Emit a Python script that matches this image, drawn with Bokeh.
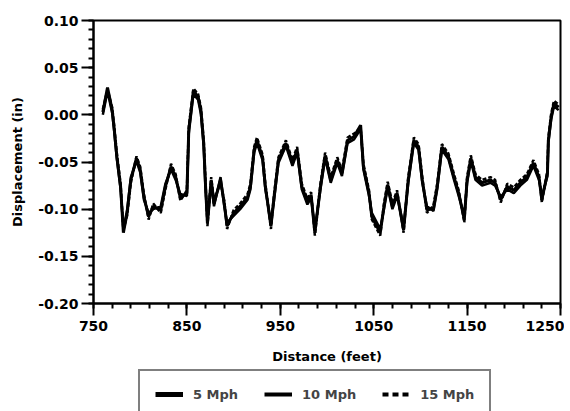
from bokeh.plotting import figure
from bokeh.layouts import column
from bokeh.models import Legend, LegendItem, FixedTicker, SingleIntervalTicker, NumeralTickFormatter, Range1d
from bokeh.embed import file_html
from bokeh.resources import INLINE

distance = [760, 765, 770, 772, 775, 779, 782, 786, 790, 796, 800, 804, 809, 814, 822, 827, 833, 838, 843, 850,
            852, 857, 862, 865, 868, 870, 872, 876, 879, 886, 890, 893, 900, 907, 915, 918, 922, 925, 931, 934,
            940, 943, 948, 956, 963, 968, 973, 979, 983, 987, 993, 998, 1004, 1011, 1016, 1022, 1029, 1036, 1039, 1045,
            1048, 1057, 1061, 1065, 1070, 1075, 1082, 1087, 1093, 1098, 1102, 1107, 1114, 1118, 1123, 1130, 1136, 1141, 1147, 1150,
            1154, 1159, 1166, 1175, 1180, 1186, 1193, 1200, 1207, 1214, 1221, 1227, 1230, 1236, 1237, 1240, 1243, 1248]

mph5 = [0.003, 0.029, 0.005, -0.013, -0.044, -0.076, -0.125, -0.104, -0.069, -0.046, -0.058, -0.087, -0.108, -0.097, -0.101, -0.076, -0.055, -0.066, -0.088, -0.083,
        -0.016, 0.026, 0.019, 0.005, -0.030, -0.076, -0.115, -0.069, -0.094, -0.069, -0.094, -0.118, -0.104, -0.097, -0.087, -0.076, -0.037, -0.027, -0.045, -0.076,
        -0.118, -0.090, -0.048, -0.030, -0.051, -0.037, -0.076, -0.092, -0.085, -0.125, -0.076, -0.043, -0.069, -0.048, -0.062, -0.027, -0.023, -0.011, -0.055, -0.083,
        -0.108, -0.125, -0.097, -0.074, -0.097, -0.083, -0.122, -0.069, -0.027, -0.034, -0.069, -0.101, -0.099, -0.076, -0.034, -0.044, -0.066, -0.083, -0.111, -0.069,
        -0.046, -0.066, -0.072, -0.069, -0.072, -0.090, -0.076, -0.080, -0.072, -0.066, -0.051, -0.066, -0.090, -0.062, -0.027, -0.002, 0.012, 0.008]

mph10 = [0.000, 0.025, 0.002, -0.016, -0.047, -0.079, -0.121, -0.101, -0.066, -0.049, -0.061, -0.090, -0.104, -0.100, -0.097, -0.073, -0.058, -0.069, -0.084, -0.086,
         -0.020, 0.022, 0.016, 0.001, -0.034, -0.080, -0.111, -0.073, -0.097, -0.066, -0.097, -0.114, -0.107, -0.100, -0.090, -0.079, -0.040, -0.030, -0.048, -0.079,
         -0.114, -0.093, -0.051, -0.033, -0.054, -0.040, -0.079, -0.095, -0.088, -0.121, -0.079, -0.046, -0.072, -0.051, -0.065, -0.030, -0.026, -0.015, -0.058, -0.086,
         -0.104, -0.121, -0.100, -0.077, -0.100, -0.086, -0.118, -0.072, -0.030, -0.037, -0.072, -0.097, -0.102, -0.079, -0.037, -0.047, -0.069, -0.086, -0.107, -0.072,
         -0.049, -0.069, -0.075, -0.072, -0.075, -0.087, -0.079, -0.083, -0.075, -0.069, -0.054, -0.069, -0.087, -0.065, -0.030, -0.005, 0.009, 0.005]

mph15 = [0.006, 0.027, 0.008, -0.010, -0.041, -0.073, -0.122, -0.107, -0.072, -0.044, -0.055, -0.084, -0.111, -0.094, -0.104, -0.079, -0.052, -0.063, -0.091, -0.080,
         -0.013, 0.028, 0.022, 0.008, -0.027, -0.072, -0.118, -0.066, -0.091, -0.072, -0.091, -0.121, -0.101, -0.094, -0.084, -0.073, -0.034, -0.024, -0.042, -0.073,
         -0.121, -0.087, -0.045, -0.027, -0.048, -0.034, -0.073, -0.089, -0.082, -0.128, -0.073, -0.040, -0.066, -0.045, -0.059, -0.024, -0.020, -0.014, -0.052, -0.080,
         -0.111, -0.128, -0.094, -0.071, -0.094, -0.080, -0.125, -0.066, -0.024, -0.031, -0.066, -0.104, -0.096, -0.073, -0.031, -0.041, -0.063, -0.080, -0.114, -0.066,
         -0.043, -0.063, -0.069, -0.066, -0.069, -0.093, -0.073, -0.077, -0.069, -0.063, -0.048, -0.063, -0.093, -0.059, -0.024, 0.001, 0.015, 0.011]

x_ticks = [750, 850, 950, 1050, 1150, 1250]
series_labels = ["5 Mph", "10 Mph", "15 Mph"]

FONT = "DejaVu Sans"

p = figure(frame_width=467, frame_height=283, x_range=(750, 1250), y_range=(-0.20, 0.10),
           output_backend="svg", toolbar_location=None,
           min_border_left=93, min_border_right=4, min_border_top=20, min_border_bottom=62)

p.line(distance, mph5, line_color="black", line_width=3)
p.line(distance, mph10, line_color="black", line_width=2.5)
p.line(distance, mph15, line_color="black", line_width=2.5, line_dash="4 2")

p.grid.visible = False
p.outline_line_color = "black"
p.outline_line_width = 2
p.background_fill_color = "white"
p.border_fill_color = "white"

p.xaxis.ticker = FixedTicker(ticks=x_ticks, minor_ticks=list(range(750, 1251, 20)))
p.yaxis.ticker = SingleIntervalTicker(interval=0.05, num_minor_ticks=5)
p.yaxis.formatter = NumeralTickFormatter(format="0.00")

for ax in (p.xaxis[0], p.yaxis[0]):
    ax.axis_line_color = "black"
    ax.axis_line_width = 2
    ax.major_tick_line_color = "black"
    ax.major_tick_line_width = 2
    ax.minor_tick_line_color = "black"
    ax.minor_tick_line_width = 2
    ax.major_tick_in = 0
    ax.major_tick_out = 12
    ax.minor_tick_in = 0
    ax.minor_tick_out = 5
    ax.major_label_text_font = FONT
    ax.major_label_text_font_style = "bold"
    ax.major_label_text_font_size = "14px"
    ax.major_label_text_color = "black"
    ax.axis_label_text_font = FONT
    ax.axis_label_text_font_style = "bold"
    ax.axis_label_text_font_size = "13px"
    ax.axis_label_text_color = "black"

p.xaxis.axis_label = "Distance (feet)"
p.yaxis.axis_label = "Displacement (in)"
p.xaxis.major_label_standoff = 5
p.yaxis.major_label_standoff = 3
p.xaxis.axis_label_standoff = 15
p.yaxis.axis_label_standoff = 10

# legend strip below the chart (series lines kept out of its view; only the legend shows)
lg = figure(width=564, height=46, x_axis_type=None, y_axis_type=None,
            x_range=Range1d(0, 1), y_range=Range1d(10, 11),
            output_backend="svg", toolbar_location=None, min_border=0)
lg.grid.visible = False
lg.outline_line_color = None
lg.background_fill_color = "white"
lg.border_fill_color = "white"
g1 = lg.line(distance, mph5, line_color="black", line_width=5)
g2 = lg.line(distance, mph10, line_color="black", line_width=4)
g3 = lg.line(distance, mph15, line_color="black", line_width=4, line_dash="6 4")

legend = Legend(items=[LegendItem(label=series_labels[0], renderers=[g1]),
                       LegendItem(label=series_labels[1], renderers=[g2]),
                       LegendItem(label=series_labels[2], renderers=[g3])],
                orientation="horizontal", location=(45, -7),
                label_text_font=FONT, label_text_font_style="bold", label_text_font_size="13px",
                glyph_width=28, glyph_height=16, label_height=16, spacing=26, padding=15, margin=0,
                border_line_color="black", border_line_width=2,
                label_standoff=10, background_fill_color="white")
lg.add_layout(legend, "center")

open("out.html", "w").write(file_html(column(p, lg, spacing=0), INLINE))
